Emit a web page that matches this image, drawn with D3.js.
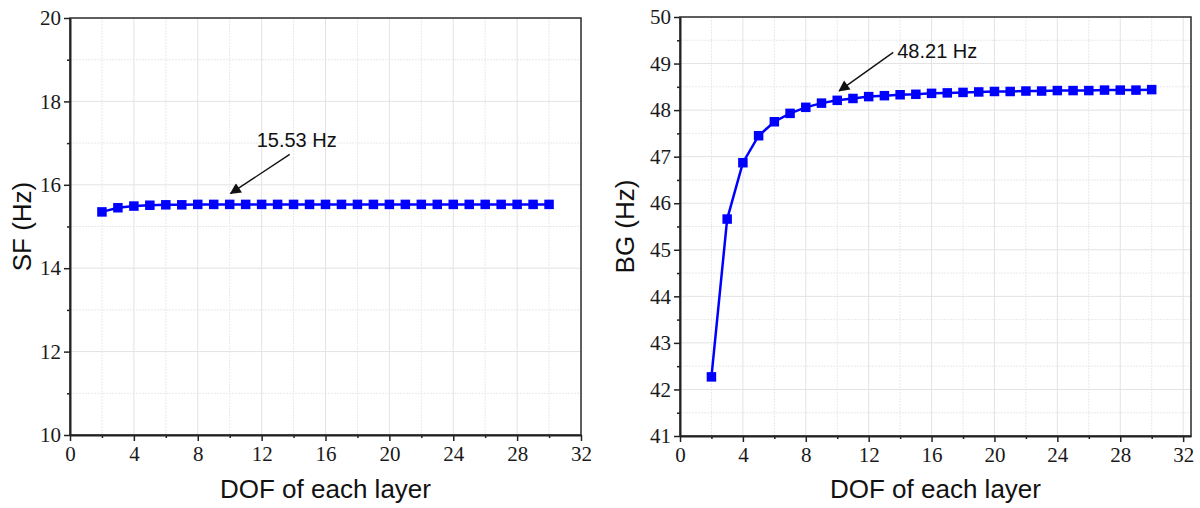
<!DOCTYPE html>
<html>
<head>
<meta charset="utf-8">
<script src="https://cdn.jsdelivr.net/npm/d3@7"></script>
<style>
  body { margin: 0; background: #fff; }
  svg { display: block; }
  .ticklab { font-family: "Liberation Serif", "DejaVu Serif", serif; font-size: 21px; }
</style>
</head>
<body>
<svg id="chart" width="1200" height="508"></svg>
<script>
// DOF of each layer (x values for both panels)
var dof = [2, 3, 4, 5, 6, 7, 8, 9, 10, 11, 12, 13, 14, 15, 16, 17, 18, 19, 20, 21, 22, 23, 24, 25, 26, 27, 28, 29, 30];

// SF frequency (Hz)
var sfValues = [15.35, 15.45, 15.49, 15.51, 15.52, 15.52, 15.53, 15.53, 15.53, 15.53, 15.53, 15.53, 15.53, 15.53, 15.53,
                15.53, 15.53, 15.53, 15.53, 15.53, 15.53, 15.53, 15.53, 15.53, 15.53, 15.53, 15.53, 15.53, 15.53];

// BG frequency (Hz)
var bgValues = [42.27, 45.66, 46.87, 47.45, 47.75, 47.93, 48.06, 48.15, 48.21, 48.25, 48.29, 48.31, 48.33, 48.34, 48.36,
                48.37, 48.38, 48.39, 48.40, 48.40, 48.41, 48.41, 48.42, 48.42, 48.42, 48.43, 48.43, 48.43, 48.44];

// tick labels
var xTicks = [0, 4, 8, 12, 16, 20, 24, 28, 32];
var sfTicks = [10, 12, 14, 16, 18, 20];
var bgTicks = [41, 42, 43, 44, 45, 46, 47, 48, 49, 50];

var svg = d3.select("#chart");

function drawPanel(opt) {
    var x = d3.scaleLinear().domain(opt.xDomain).range([opt.left, opt.right]);
    var y = d3.scaleLinear().domain(opt.yDomain).range([opt.bottom, opt.top]);
    var g = svg.append("g");

    // grid: minor then major
    var xMinor = d3.range(2, opt.xDomain[1], 4);
    var yMinor = d3.range(opt.yDomain[0] + opt.yMinorStep, opt.yDomain[1], opt.yMinorStep * 2);

    g.selectAll(".gxm").data(xMinor).enter().append("line")
        .attr("x1", function(d) { return x(d); }).attr("x2", function(d) { return x(d); })
        .attr("y1", opt.top).attr("y2", opt.bottom)
        .attr("stroke", "#e9e9e9").attr("stroke-width", 1).attr("stroke-dasharray", "2,1");
    g.selectAll(".gym").data(yMinor).enter().append("line")
        .attr("x1", opt.left).attr("x2", opt.right)
        .attr("y1", function(d) { return y(d); }).attr("y2", function(d) { return y(d); })
        .attr("stroke", "#e9e9e9").attr("stroke-width", 1).attr("stroke-dasharray", "2,1");
    g.selectAll(".gx").data(xTicks.filter(function(d) { return d > 0 && d < opt.xDomain[1]; })).enter().append("line")
        .attr("x1", function(d) { return x(d); }).attr("x2", function(d) { return x(d); })
        .attr("y1", opt.top).attr("y2", opt.bottom)
        .attr("stroke", "#e3e3e3").attr("stroke-width", 1);
    g.selectAll(".gy").data(opt.yTicks.slice(1, -1)).enter().append("line")
        .attr("x1", opt.left).attr("x2", opt.right)
        .attr("y1", function(d) { return y(d); }).attr("y2", function(d) { return y(d); })
        .attr("stroke", "#e3e3e3").attr("stroke-width", 1);

    // frame
    g.append("rect")
        .attr("x", opt.left).attr("y", opt.top)
        .attr("width", opt.right - opt.left).attr("height", opt.bottom - opt.top)
        .attr("fill", "none").attr("stroke", "#2a2a2a").attr("stroke-width", 1.5);

    // minor ticks
    g.append("g")
        .attr("transform", "translate(0," + opt.bottom + ")")
        .call(d3.axisBottom(x).tickValues(xMinor).tickSize(3).tickFormat(""))
        .call(function(a) { a.select(".domain").remove(); });
    g.append("g")
        .attr("transform", "translate(" + opt.left + ",0)")
        .call(d3.axisLeft(y).tickValues(yMinor).tickSize(3).tickFormat(""))
        .call(function(a) { a.select(".domain").remove(); });

    // major axes
    var xa = g.append("g")
        .attr("transform", "translate(0," + opt.bottom + ")")
        .call(d3.axisBottom(x).tickValues(xTicks).tickSize(6).tickPadding(5).tickSizeOuter(0).tickFormat(d3.format("d")));
    var ya = g.append("g")
        .attr("transform", "translate(" + opt.left + ",0)")
        .call(d3.axisLeft(y).tickValues(opt.yTicks).tickSize(6).tickPadding(3).tickSizeOuter(0).tickFormat(d3.format("d")));

    [xa, ya].forEach(function(a) {
        a.attr("font-family", null).attr("font-size", null);
        a.select(".domain").attr("stroke", "#222").attr("stroke-width", 2);
        a.selectAll("text")
            .attr("class", "ticklab")
            .attr("fill", "#1a1a1a");
    });
    g.selectAll(".tick line").attr("stroke", "#222").attr("stroke-width", 1.5);

    // line + square markers
    var pts = dof.map(function(d, i) { return { x: d, y: opt.values[i] }; });
    var line = d3.line()
        .x(function(d) { return x(d.x); })
        .y(function(d) { return y(d.y); });
    g.append("path")
        .datum(pts)
        .attr("d", line)
        .attr("fill", "none")
        .attr("stroke", "#0000ff")
        .attr("stroke-width", 2.5);
    g.selectAll(".pt").data(pts).enter().append("rect")
        .attr("x", function(d) { return x(d.x) - 4.75; })
        .attr("y", function(d) { return y(d.y) - 4.75; })
        .attr("width", 9.5).attr("height", 9.5)
        .attr("fill", "#0000ff");

    // annotation arrow
    var ax = x(opt.note.x), ay = y(opt.note.y);
    g.append("line")
        .attr("x1", ax + opt.note.tail[0]).attr("y1", ay + opt.note.tail[1])
        .attr("x2", ax + opt.note.head[0]).attr("y2", ay + opt.note.head[1])
        .attr("stroke", "#111").attr("stroke-width", 1.4)
        .attr("marker-end", "url(#arrow)");
    g.append("text")
        .attr("x", ax + opt.note.text[0]).attr("y", ay + opt.note.text[1])
        .style("font-family", "'Liberation Sans', Arial, sans-serif")
        .style("font-size", "20px")
        .attr("fill", "#111")
        .text(opt.note.label);

    // axis titles
    g.append("text")
        .attr("x", (opt.left + opt.right) / 2)
        .attr("y", 498)
        .style("text-anchor", "middle")
        .style("font-family", "'Liberation Sans', Arial, sans-serif")
        .style("font-size", "26px")
        .attr("fill", "#111")
        .text("DOF of each layer");
    g.append("text")
        .attr("transform", "translate(" + opt.yTitleX + "," + ((opt.top + opt.bottom) / 2) + ") rotate(-90)")
        .style("text-anchor", "middle")
        .style("font-family", "'Liberation Sans', Arial, sans-serif")
        .style("font-size", "26px")
        .attr("fill", "#111")
        .text(opt.yTitle);
}

// arrowhead
svg.append("defs").append("marker")
    .attr("id", "arrow")
    .attr("viewBox", "0 0 10 10")
    .attr("refX", 9).attr("refY", 5)
    .attr("markerWidth", 16).attr("markerHeight", 11)
    .attr("markerUnits", "userSpaceOnUse")
    .attr("orient", "auto")
    .append("path")
    .attr("d", "M0,0 L10,5 L0,10 Z")
    .attr("fill", "#111");

drawPanel({
    left: 70, right: 581, top: 18, bottom: 435,
    xDomain: [0, 32], yDomain: [10, 20], yMinorStep: 1,
    yTicks: sfTicks, values: sfValues,
    yTitle: "SF (Hz)", yTitleX: 31,
    note: { x: 10, y: 15.53, label: "15.53 Hz", head: [1, -11], tail: [60, -50], text: [27, -57] }
});

drawPanel({
    left: 680, right: 1191, top: 17, bottom: 436,
    xDomain: [0, 32.5], yDomain: [41, 50], yMinorStep: 0.5,
    yTicks: bgTicks, values: bgValues,
    yTitle: "BG (Hz)", yTitleX: 634,
    note: { x: 10, y: 48.21, label: "48.21 Hz", head: [2, -9.5], tail: [56, -48], text: [60, -42.5] }
});
</script>
</body>
</html>
